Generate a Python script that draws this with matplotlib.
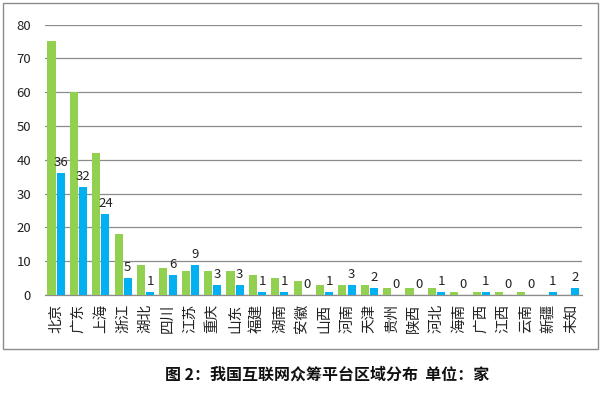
import matplotlib
matplotlib.use("Agg")
import matplotlib.pyplot as plt
import numpy as np
from matplotlib.patches import Rectangle

plt.rcParams['font.family'] = ['Noto Sans CJK SC', 'DejaVu Sans']

categories = ["北京", "广东", "上海", "浙江", "湖北", "四川", "江苏", "重庆", "山东", "福建",
              "湖南", "安徽", "山西", "河南", "天津", "贵州", "陕西", "河北", "海南", "广西",
              "江西", "云南", "新疆", "未知"]
series_green = [75, 60, 42, 18, 9, 8, 7, 7, 7, 6, 5, 4, 3, 3, 3, 2, 2, 2, 1, 1, 1, 1, 0, 0]
series_blue = [36, 32, 24, 5, 1, 6, 9, 3, 3, 1, 1, 0, 1, 3, 2, 0, 0, 1, 0, 1, 0, 0, 1, 2]
yticks = [0, 10, 20, 30, 40, 50, 60, 70, 80]
title = "图 2：我国互联网众筹平台区域分布  单位：家"

fig = plt.figure(figsize=(6.01, 3.96), dpi=100)
ax = fig.add_axes([45/601, 1-295/396, (582-45)/601, (295-24.5)/396])

x = np.arange(len(categories))
w = 0.36
ax.bar(x - 0.21, series_green, width=w, color="#92D050", zorder=3)
ax.bar(x + 0.2, series_blue, width=w, color="#00B0F0", zorder=3)
for xi, v in zip(x, series_blue):
    ax.text(xi + 0.2, v + 1.2, str(v), ha="center", va="bottom", fontsize=9.5, color="#222222")

ax.set_xlim(-0.5, len(categories) - 0.5)
ax.set_ylim(0, 80)
ax.set_yticks(yticks)
ax.set_yticklabels([str(t) for t in yticks], fontsize=9.5, color="#222222")
ax.yaxis.grid(True, color="#8c8c8c", linewidth=0.9, zorder=0)
ax.set_axisbelow(True)
ax.set_xticks(x)
ax.set_xticklabels(categories, rotation=90, fontsize=10.5, color="#222222")
ax.tick_params(axis="both", length=0)
ax.tick_params(axis="x", pad=6)
ax.tick_params(axis="y", pad=10)
for s in ["top", "right", "left"]:
    ax.spines[s].set_visible(False)
ax.spines["bottom"].set_color("#8c8c8c")
ax.spines["bottom"].set_linewidth(0.9)

fig.patches.append(Rectangle((3/601, 1-349/396), 595/601, 346/396, transform=fig.transFigure,
                             fill=False, edgecolor="#8c8c8c", linewidth=1.0))
fig.text(327/601, 1-375/396, title, ha="center", va="center", fontsize=11.5, fontweight="bold", color="#111111")

fig.savefig("out.png", dpi=100)
